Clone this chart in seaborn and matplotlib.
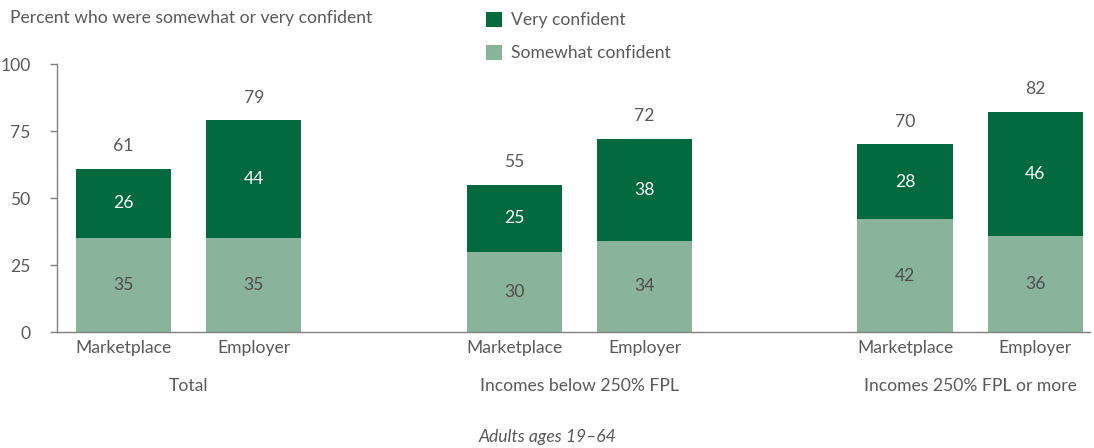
import matplotlib
matplotlib.use("Agg")
import matplotlib.pyplot as plt
import matplotlib.transforms as mtransforms
from matplotlib.patches import Patch
import seaborn as sns
import pandas as pd

groups = ["Total", "Incomes below 250% FPL", "Incomes 250% FPL or more"]
categories = ["Marketplace", "Employer"]
somewhat = [35, 35, 30, 34, 42, 36]
very = [26, 44, 25, 38, 28, 46]
totals = [61, 79, 55, 72, 70, 82]
yticks = [0, 25, 50, 75, 100]

DARK = "#03693F"
LIGHT = "#8AB39B"
GRAY = "#595959"
FS = 12.6

sns.set_theme(style="white")
plt.rcParams["font.family"] = ["Lato", "DejaVu Sans"]

# slots: each group has 2 bars followed by one empty spacer slot
rows = []
order = []
for gi, g in enumerate(groups):
    for ci, c in enumerate(categories):
        k = gi * 2 + ci
        slot = f"{g}|{c}"
        order.append(slot)
        rows.append({"slot": slot, "somewhat": somewhat[k], "very": very[k],
                     "total": totals[k], "stack": somewhat[k] + very[k]})
    if gi < len(groups) - 1:
        order.append(f"gap{gi}")
df = pd.DataFrame(rows)

fig = plt.figure(figsize=(10.94, 4.48), dpi=100)
ax = fig.add_axes([57 / 1094, 1 - 332 / 448, (1090 - 57) / 1094, (332 - 64) / 448])

sns.barplot(data=df, x="slot", y="stack", order=order, color=DARK, width=0.73,
            saturation=1, ax=ax, linewidth=0)
sns.barplot(data=df, x="slot", y="somewhat", order=order, color=LIGHT, width=0.73,
            saturation=1, ax=ax, linewidth=0)

pos = {s: i for i, s in enumerate(order)}
for _, r in df.iterrows():
    x = pos[r["slot"]]
    ax.text(x, r["somewhat"] / 2, f"{r['somewhat']}", ha="center", va="center",
            color="#4D4D4D", fontsize=FS)
    ax.text(x, r["somewhat"] + r["very"] / 2, f"{r['very']}", ha="center", va="center",
            color="white", fontsize=FS)
    ax.text(x, r["stack"] + 8.5, f"{r['total']}", ha="center", va="center",
            color=GRAY, fontsize=FS)

ax.set_ylim(0, 100)
ax.set_xlim(-0.51, len(order) - 1 + 0.42)
ax.set_yticks(yticks)
ax.set_yticklabels([str(t) for t in yticks], color=GRAY, fontsize=FS)
ticks = [pos[s] for s in df["slot"]]
ax.set_xticks(ticks)
ax.set_xticklabels([s.split("|")[1] for s in df["slot"]], color=GRAY, fontsize=FS)
ax.set_xlabel("")
ax.set_ylabel("")
ax.tick_params(axis="x", length=0, pad=6)
ax.tick_params(axis="y", length=5, width=1, color="#808080", pad=14, direction="out", left=True)

for side in ["top", "right"]:
    ax.spines[side].set_visible(False)
ax.spines["left"].set_color("#808080")
ax.spines["bottom"].set_color("#808080")
ax.spines["left"].set_linewidth(1)
ax.spines["bottom"].set_linewidth(1)

trans = mtransforms.blended_transform_factory(ax.transData, fig.transFigure)
for gi, g in enumerate(groups):
    c = (pos[f"{g}|{categories[0]}"] + pos[f"{g}|{categories[1]}"]) / 2
    ax.text(c, 1 - 386 / 448, g, transform=trans, ha="center", va="center",
            color=GRAY, fontsize=FS)

fig.text(10 / 1094, 1 - 18 / 448, "Percent who were somewhat or very confident",
         ha="left", va="center", color=GRAY, fontsize=FS)
fig.text(547 / 1094, 1 - 437 / 448, "Adults ages 19\u201364", ha="center", va="center",
         color=GRAY, fontsize=FS, style="italic")

handles = [Patch(facecolor=DARK, edgecolor="none"), Patch(facecolor=LIGHT, edgecolor="none")]
fig.legend(handles, ["Very confident", "Somewhat confident"], loc="upper left",
           bbox_to_anchor=(477 / 1094, 1 - 3 / 448), frameon=False, fontsize=FS,
           handlelength=0.95, handleheight=0.95, handletextpad=0.5, labelspacing=0.95,
           borderpad=0, labelcolor=GRAY)

fig.savefig("out.png", dpi=100)
